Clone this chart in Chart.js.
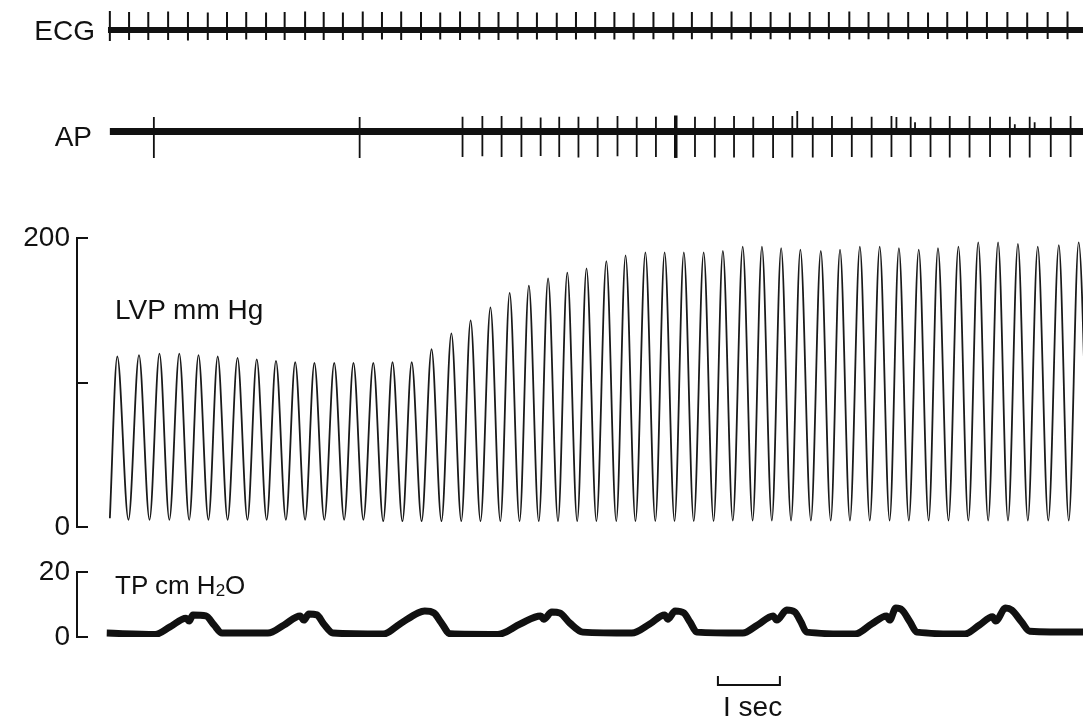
<!DOCTYPE html>
<html>
<head>
<meta charset="utf-8">
<script src="https://cdn.jsdelivr.net/npm/chart.js@4.4.1/dist/chart.umd.min.js"></script>
<style>
  html, body { margin: 0; padding: 0; background: #fff; }
  #wrap { position: relative; width: 1083px; height: 722px; overflow: hidden;
          font-family: "Liberation Sans", Arial, sans-serif; color: #111; }
  canvas { position: absolute; left: 0; }
  .lbl { position: absolute; font-size: 28px; line-height: 28px; white-space: nowrap; }
  .lbl sub { font-size: 17px; vertical-align: -2px; line-height: 0; }
</style>
</head>
<body>
<div id="wrap">
  <canvas id="ecg" width="1083" height="60" style="top:0px"></canvas>
  <canvas id="ap" width="1083" height="73" style="top:100px"></canvas>
  <canvas id="lvp" width="1083" height="369" style="top:198px"></canvas>
  <canvas id="tp" width="1083" height="190" style="top:532px"></canvas>

  <div class="lbl" style="left:0;width:95px;text-align:right;top:17px">ECG</div>
  <div class="lbl" style="left:0;width:92px;text-align:right;top:123px">AP</div>
  <div class="lbl" style="left:115px;top:296px">LVP mm Hg</div>
  <div class="lbl" style="left:115px;top:571px;font-size:26px">TP cm H<sub>2</sub>O</div>
  <div class="lbl" style="left:723px;top:693px">I sec</div>
</div>

<script>
// time axis in seconds, 0 = at the pressure axes
const T_END = 16.23;

// ECG: one spike per beat (time s, up / down deflection, arbitrary units)
const ecgSpikeT = [0.53, 0.84, 1.15, 1.47, 1.79, 2.11, 2.42, 2.73, 3.05, 3.35, 3.68, 3.98, 4.29,
  4.61, 4.92, 5.23, 5.55, 5.86, 6.18, 6.49, 6.80, 7.11, 7.42, 7.74, 8.05, 8.36, 8.67, 8.98, 9.30, 9.62, 9.92, 10.24,
  10.56, 10.87, 11.19, 11.50, 11.82, 12.13, 12.46, 12.77, 13.09, 13.41, 13.73, 14.04, 14.36, 14.68, 15.01, 15.33, 15.66, 15.98];
const ecgSpikeUp = [0.95, 0.90, 0.90, 0.92, 0.90, 0.88, 0.90, 0.90, 0.88, 0.90,
  0.92, 0.90, 0.88, 0.92, 0.90, 0.92, 0.90, 0.88, 0.92, 0.90,
  0.90, 0.90, 0.88, 0.86, 0.90, 0.90, 0.90, 0.86, 0.90, 0.88,
  0.90, 0.90, 0.92, 0.90, 0.90, 0.88, 0.90, 0.90, 0.92, 0.90,
  0.88, 0.90, 0.88, 0.90, 0.92, 0.90, 0.90, 0.88, 0.90, 0.92];
const ecgSpikeDown = [-0.55, -0.50, -0.50, -0.50, -0.52, -0.50, -0.50, -0.48, -0.50, -0.50,
  -0.50, -0.50, -0.50, -0.50, -0.48, -0.50, -0.50, -0.48, -0.50, -0.48,
  -0.50, -0.48, -0.48, -0.50, -0.48, -0.46, -0.48, -0.48, -0.46, -0.48,
  -0.46, -0.46, -0.48, -0.46, -0.46, -0.48, -0.46, -0.46, -0.48, -0.46,
  -0.46, -0.46, -0.45, -0.46, -0.46, -0.45, -0.46, -0.46, -0.45, -0.46];
const ecgBaseT = [0.50, 16.30];

// AP: pacing spikes
const apSpikeT = [1.24, 4.56,
  6.22, 6.54, 6.85, 7.17, 7.48, 7.78, 8.09, 8.40, 8.72, 9.03, 9.34, 9.66, 9.97, 10.29,
  10.60, 10.91, 11.23, 11.54, 11.87, 12.18, 12.50, 12.82, 13.14, 13.45, 13.77, 14.08, 14.40, 14.73, 15.05, 15.37, 15.71, 16.03];
const apSpikeUp = [0.70, 0.70,
  0.72, 0.75, 0.75, 0.72, 0.68, 0.72, 0.72, 0.72, 0.75, 0.72, 0.72, 0.75, 0.72, 0.72,
  0.75, 0.72, 0.75, 0.75, 0.72, 0.75, 0.72, 0.72, 0.75, 0.72, 0.72, 0.75, 0.75, 0.72, 0.72, 0.72, 0.72, 0.75];
const apSpikeDown = [-1.30, -1.30,
  -1.25, -1.22, -1.25, -1.25, -1.20, -1.25, -1.28, -1.25, -1.22, -1.25, -1.25, -1.28, -1.25, -1.28,
  -1.28, -1.28, -1.30, -1.28, -1.28, -1.25, -1.25, -1.28, -1.25, -1.25, -1.25, -1.28, -1.28, -1.25, -1.28, -1.28, -1.25, -1.25];
// small extra deflections (upward only) and the one heavy spike
const apMarkT = [11.62, 13.22, 13.52, 15.13, 15.45];
const apMarkUp = [1.10, 0.70, 0.45, 0.35, 0.45];
const apHeavyT = [9.66];
const apHeavyUp = [0.78];
const apHeavyDown = [-1.30];
const apBaseT = [0.53, 16.30];

// LVP mm Hg: systolic peaks and diastolic troughs
const lvpStart = { t: 0.53, v: 6 };
const lvpPeakT = [0.65, 1.00, 1.33, 1.65, 1.96, 2.27, 2.59, 2.90, 3.21, 3.52, 3.83, 4.15, 4.46,
  4.78, 5.09, 5.40, 5.72, 6.04, 6.35, 6.67, 6.98, 7.29, 7.60, 7.91, 8.22, 8.54, 8.85, 9.17, 9.48, 9.79, 10.11,
  10.42, 10.74, 11.05, 11.36, 11.67, 12.00, 12.31, 12.63, 12.95, 13.26, 13.58, 13.89, 14.22, 14.54, 14.86, 15.18, 15.50, 15.84, 16.16];
const lvpPeak = [118, 119, 120, 120, 119, 118, 117, 116, 115, 114, 113.5, 113.5, 113.5,
  113.5, 114, 114, 123, 134, 143, 152, 162, 167, 172, 176, 179, 184, 188, 190, 190, 190, 190,
  191, 194, 194, 193, 192, 191, 192, 194, 194, 193, 192, 193, 194, 197, 197, 196, 194, 195, 197];
const lvpTroughT = [0.83, 1.17, 1.49, 1.81, 2.12, 2.43, 2.75, 3.06, 3.37, 3.68, 3.99, 4.31, 4.62,
  4.94, 5.25, 5.56, 5.88, 6.20, 6.51, 6.83, 7.14, 7.45, 7.76, 8.07, 8.38, 8.70, 9.01, 9.33, 9.64, 9.95, 10.27,
  10.58, 10.90, 11.21, 11.52, 11.84, 12.16, 12.47, 12.79, 13.11, 13.42, 13.74, 14.06, 14.38, 14.70, 15.02, 15.34, 15.67, 16.00, 16.32];
const lvpTrough = [5, 5, 5, 5, 5, 5, 5, 5, 5, 5, 5, 5, 5,
  4, 4, 4, 4, 4, 4, 4, 4, 4, 4, 4, 4, 4, 4, 4, 4, 4, 4,
  4.5, 4.5, 4.5, 4.5, 4.5, 4.5, 4.5, 4.5, 4.5, 4.5, 4.5, 4.5, 4.5, 4.5, 4.5, 4.5, 4.5, 4.5, 4.5];

// TP cm H2O (respiration)
const tpT = [0.48, 1.26, 1.50, 1.76, 1.81, 1.87, 2.08, 2.21, 2.34,
  3.08, 3.34, 3.60, 3.66, 3.74, 3.87, 3.98, 4.13,
  4.94, 5.21, 5.50, 5.61, 5.76, 5.87, 6.02,
  6.79, 7.15, 7.48, 7.53, 7.66, 7.79, 7.95, 8.16,
  8.95, 9.24, 9.48, 9.53, 9.65, 9.79, 9.89, 10.00,
  10.74, 10.98, 11.23, 11.29, 11.45, 11.58, 11.68, 11.77,
  12.55, 12.82, 13.06, 13.11, 13.21, 13.31, 13.44, 13.55,
  14.32, 14.56, 14.77, 14.82, 14.98, 15.08, 15.24, 15.37, 16.23];
const tpV = [1.2, 0.8, 3.1, 5.8, 4.9, 6.8, 6.5, 3.7, 1.2,
  1.2, 3.7, 6.5, 5.2, 7.1, 6.8, 4.0, 1.2,
  0.9, 4.0, 7.4, 8.0, 7.4, 4.6, 1.0,
  0.8, 4.0, 6.5, 5.5, 7.7, 7.4, 4.3, 1.5,
  1.2, 4.0, 6.8, 5.5, 8.0, 7.4, 4.6, 1.5,
  1.2, 3.7, 6.5, 5.2, 8.3, 7.7, 4.6, 1.5,
  0.9, 4.0, 6.5, 5.2, 8.9, 8.3, 4.6, 1.5,
  0.9, 3.7, 6.2, 4.9, 8.9, 8.3, 4.6, 1.8, 1.5];

// 1 sec time bar under the TP trace (in TP units, below the axis)
const barT = [10.34, 10.34, 11.34, 11.34];
const barV = [-12, -14.8, -14.8, -12];

const INK = '#111';
const AXIS_W = 77;
const FONT = { family: 'Liberation Sans', size: 28 };

// vertical spikes as separate segments (null breaks the line)
function spikes(ts, lo, hi) {
  const pts = [];
  ts.forEach((t, i) => {
    pts.push({ x: t, y: lo[i] }, { x: t, y: hi[i] }, { x: t, y: null });
  });
  return pts;
}

function xy(ts, vs) {
  return ts.map((t, i) => ({ x: t, y: vs[i] }));
}

function hiddenAxis(min, max) {
  return {
    position: 'left', min: min, max: max,
    afterFit: s => { s.width = AXIS_W; },
    border: { display: false }, grid: { display: false }, ticks: { display: false }
  };
}

// axis drawn as a bracket: ticks point into the plot
function bracketAxis(min, max, step) {
  return {
    position: 'left', min: min, max: max,
    afterFit: s => { s.width = AXIS_W; },
    border: { display: true, color: INK, width: 2 },
    grid: { display: true, drawOnChartArea: false, drawTicks: true, tickLength: -11, color: INK, lineWidth: 2 },
    ticks: {
      stepSize: step, padding: 18, color: INK, font: FONT, autoSkip: false,
      callback: v => (v === min || v === max) ? String(v) : ''
    }
  };
}

function makeChart(id, datasets, yAxis, pad) {
  return new Chart(document.getElementById(id), {
    type: 'line',
    data: { datasets: datasets },
    options: {
      responsive: false, animation: false, devicePixelRatio: 1, events: [],
      layout: { padding: { left: 0, right: 0, top: pad[0], bottom: pad[1] } },
      elements: { point: { radius: 0 } },
      plugins: { legend: { display: false }, tooltip: { enabled: false } },
      scales: {
        x: { type: 'linear', min: 0, max: T_END, display: false },
        y: yAxis
      }
    }
  });
}

// ECG
makeChart('ecg', [
  { data: xy(ecgBaseT, [0, 0]), borderColor: INK, borderWidth: 6, tension: 0 },
  { data: spikes(ecgSpikeT, ecgSpikeDown, ecgSpikeUp), borderColor: INK, borderWidth: 2, tension: 0 }
], hiddenAxis(-1.15, 1.15), [7, 7]);

// AP
makeChart('ap', [
  { data: xy(apBaseT, [0, 0]), borderColor: INK, borderWidth: 7, tension: 0 },
  { data: spikes(apSpikeT, apSpikeDown, apSpikeUp), borderColor: INK, borderWidth: 1.8, tension: 0 },
  { data: spikes(apMarkT, apMarkT.map(() => 0), apMarkUp), borderColor: INK, borderWidth: 1.8, tension: 0 },
  { data: spikes(apHeavyT, apHeavyDown, apHeavyUp), borderColor: INK, borderWidth: 3.5, tension: 0 }
], hiddenAxis(-1.5, 1.0), [11, 11]);

// LVP: start point, then alternate peak / trough
const lvpPts = [{ x: lvpStart.t, y: lvpStart.v }];
lvpPeakT.forEach((t, i) => {
  lvpPts.push({ x: t, y: lvpPeak[i] }, { x: lvpTroughT[i], y: lvpTrough[i] });
});
makeChart('lvp', [
  { data: lvpPts, borderColor: '#1a1a1a', borderWidth: 1.8, cubicInterpolationMode: 'monotone' }
], bracketAxis(0, 200, 100), [40, 40]);

// TP + time bar
makeChart('tp', [
  { data: xy(tpT, tpV), borderColor: INK, borderWidth: 7, cubicInterpolationMode: 'monotone', borderJoinStyle: 'round' },
  { data: xy(barT, barV), borderColor: INK, borderWidth: 2, tension: 0, clip: false }
], bracketAxis(0, 20, 20), [40, 85]);
</script>
</body>
</html>
